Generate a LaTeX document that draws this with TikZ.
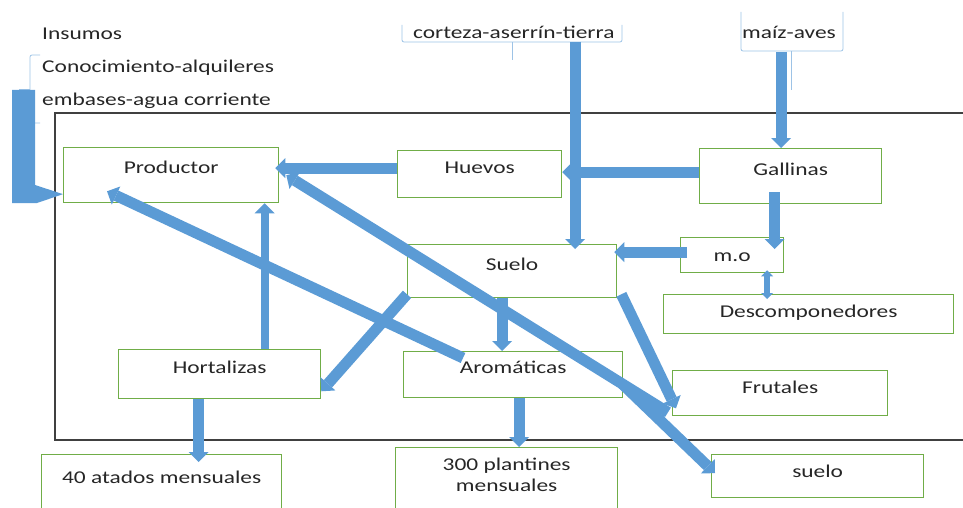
\documentclass[tikz,border=0pt]{standalone}
\usepackage{fontspec}
\setmainfont{Carlito}[FakeStretch=1.3]
\usetikzlibrary{arrows.meta, positioning}
\definecolor{boxgreen}{HTML}{70AD47}
\definecolor{flowblue}{HTML}{5B9BD5}
\definecolor{bracketblue}{HTML}{9DC3E6}
\definecolor{framegray}{HTML}{404040}
\definecolor{txtgray}{HTML}{262626}

\begin{document}
\begin{tikzpicture}[
	x=1pt, y=-1pt,
	font=\fontsize{18}{21}\selectfont,
	box/.style={draw=boxgreen, line width=1.3pt, anchor=north west, inner sep=0pt, align=center, text height=24pt, text=txtgray},
	lbl/.style={anchor=base west, inner sep=0pt, text=txtgray},
	flow/.style={draw=flowblue, line width=11pt, -{Triangle[width=20pt, length=10pt, line width=0pt]}},
	flowsmall/.style={draw=flowblue, line width=6pt, {Triangle[width=12pt, length=6pt, line width=0pt]}-{Triangle[width=12pt, length=6pt, line width=0pt]}},
	brace/.style={draw=bracketblue, line width=0.8pt, rounded corners=2pt},
	>=latex
	]
	\clip (0,0) rectangle (963,508);
	
	% insumos
	\node[lbl] (insumos) at (42,40) {Insumos};
	\node[lbl] (conoc) [below=33pt of insumos.base west, anchor=base west] {Conocimiento-alquileres};
	\node[lbl] (embases) [below=33pt of conoc.base west, anchor=base west] {embases-agua corriente};
	\node[lbl] (corteza) at (413,39) {corteza-aserrín-tierra};
	\node[lbl] (maiz) at (742,39) {maíz-aves};
	
	\draw[brace] (40,55) -- (30,55) -- (30,123) -- (40,123);
	\draw[brace] (30,89) -- (19,89);
	\draw[brace] (402,25) -- (402,42) -- (622,42) -- (622,25);
	\draw[brace] (512,42) -- (512,60);
	\draw[brace] (741,12) -- (741,51) -- (843,51) -- (843,12);
	\draw[brace] (791,51) -- (791,90);
	
	\draw[framegray, line width=1.5pt] (55,113) rectangle (975,440);
	
	% cajas
	\node[box, minimum width=215pt, text height=26pt, text depth=29pt] (prod) at (63,147) {Productor};
	\node[box, minimum width=164pt, text height=23pt, text depth=24pt] (huevos) at (397,150) {Huevos};
	\node[box, minimum width=182pt, text height=27pt, text depth=28pt] (gallinas) at (699,148) {Gallinas};
	\node[box, minimum width=103pt, text depth=11pt] (mo) at (680,237) {m.o};
	\node[box, minimum width=209pt, text height=26pt, text depth=27pt] (suelo) at (407,244) {Suelo};
	\node[box, minimum width=290pt, text height=23pt, text depth=16pt] (descomp) at (663,294) {Descomponedores};
	\node[box, minimum width=202pt, text depth=25pt] (hort) at (118,349) {Hortalizas};
	\node[box, minimum width=219pt, text height=22pt, text depth=24pt] (arom) at (403,351) {Aromáticas};
	\node[box, minimum width=215pt, text height=23pt, text depth=22pt] (frut) at (672,370) {Frutales};
	\node[box, minimum width=240pt, text height=29pt, text depth=41pt] (atados) at (41,454) {40 atados mensuales};
	\node[box, minimum width=222pt, text height=44pt, text depth=26pt] (plantines) at (395,447) {300 plantines\\mensuales};
	\node[box, minimum width=212pt, text height=23pt, text depth=20pt] (suelob) at (711,454) {suelo};
	
	% flechas
	\coordinate (czend) at (575,42);
	\coordinate (mzend) at (781,52);
	\draw[flow] (czend) -- ([yshift=-5pt]czend |- suelo.north);
	\draw[flow] (mzend) -- (mzend |- gallinas.north);
	\draw[flow] ([yshift=4pt]gallinas.west) -- ([yshift=4pt]gallinas.west -| huevos.east);
	\draw[flow] ([yshift=6pt]huevos.west) -- ([xshift=-4pt,yshift=6pt]huevos.west -| prod.east);
	\draw[flow] ([xshift=-16pt,yshift=12pt]gallinas.south) -- ([xshift=-16pt,yshift=-12pt]gallinas.south |- mo.north);
	\draw[flow] ([xshift=7pt,yshift=3pt]mo.west) -- ([xshift=-3pt,yshift=3pt]mo.west -| suelo.east);
	\draw[flowsmall] ([xshift=35pt,yshift=3pt]mo.south) -- ([xshift=35pt,yshift=-5pt]mo.south |- descomp.north);
	\draw[flow] ([yshift=4pt]suelo.south west) -- ([yshift=8pt]hort.south east);
	\draw[flow] ([xshift=-10pt]suelo.south) -- ([xshift=-10pt]suelo.south |- arom.north);
	\draw[flow] ([xshift=4pt,yshift=4pt]suelo.south east) -- ([xshift=4pt,yshift=8pt]frut.south west);
	\draw[flow, line width=8pt] ([xshift=45pt]hort.north) -- ([xshift=45pt]hort.north |- prod.south);
	\draw[flow] ([xshift=60pt,yshift=-7pt]arom.north west) -- ([xshift=44pt,yshift=12pt]prod.south west);
	\draw[flow] ([xshift=-4pt,yshift=4pt]frut.south west) -- coordinate[pos=0.12] (fork) ([xshift=7pt]prod.east);
	\draw[flow] (fork) -- ([xshift=4pt,yshift=3pt]suelob.west);
	\draw[flow] ([xshift=-21pt]hort.south) -- ([xshift=-21pt,yshift=-8pt]hort.south |- atados.north);
	\draw[flow] ([xshift=6pt]arom.south) -- ([xshift=6pt]arom.south |- plantines.north);
	\fill[flowblue] (12,90) -- (35,90) -- (35,185) -- ([yshift=-19pt]prod.west) -- (37,203) -- (12,203) -- cycle;
\end{tikzpicture}
\end{document}
